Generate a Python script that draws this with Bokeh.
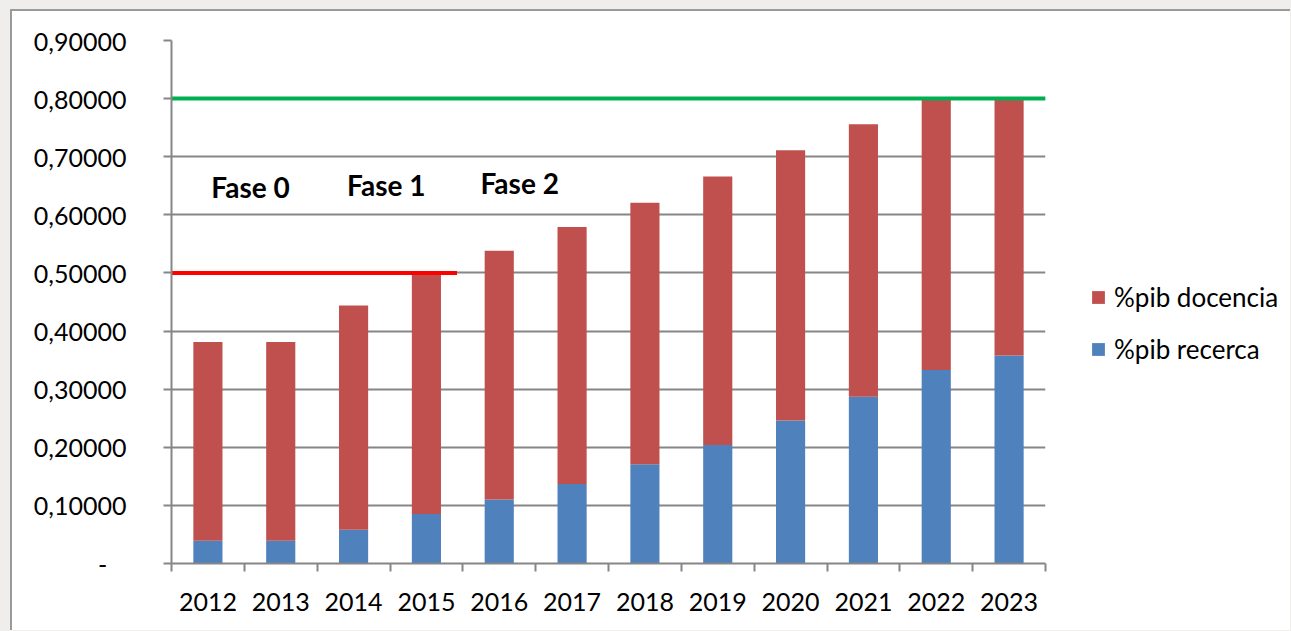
from bokeh.plotting import figure
from bokeh.layouts import row
from bokeh.models import ColumnDataSource, Range1d, FixedTicker, Legend, LegendItem, Label
from bokeh.embed import file_html
from bokeh.resources import INLINE

years = ["2012", "2013", "2014", "2015", "2016", "2017",
         "2018", "2019", "2020", "2021", "2022", "2023"]
pib_recerca = [0.039, 0.039, 0.058, 0.085, 0.110, 0.137,
               0.171, 0.204, 0.246, 0.287, 0.333, 0.358]
pib_docencia = [0.342, 0.342, 0.386, 0.415, 0.428, 0.442,
                0.450, 0.462, 0.465, 0.469, 0.467, 0.442]
series_names = ["%pib docencia", "%pib recerca"]
y_tick_values = [0.0, 0.1, 0.2, 0.3, 0.4, 0.5, 0.6, 0.7, 0.8, 0.9]
y_tick_labels = ["-\u00a0\u00a0\u00a0", "0,10000", "0,20000", "0,30000", "0,40000",
                 "0,50000", "0,60000", "0,70000", "0,80000", "0,90000"]
phase_labels = ["Fase 0", "Fase 1", "Fase 2"]
phase_label_x = [1.585, 3.45, 5.28]
phase_label_y = [0.648, 0.651, 0.655]
target_levels = [0.5, 0.8]
target_line_end = [4.42, 12.5]
target_colors = ["#FF0000", "#00B050"]

FONT = "Lato"
GRAY = "#868686"
RED = "#C0504D"
BLUE = "#4F81BD"

x_pos = list(range(1, len(years) + 1))
source = ColumnDataSource(dict(x=x_pos, recerca=pib_recerca, docencia=pib_docencia))

p = figure(width=1043, height=619, output_backend="svg", toolbar_location=None,
           x_range=Range1d(0.5, len(years) + 0.5), y_range=Range1d(0, 0.9),
           min_border_left=159, min_border_right=10, min_border_top=29,
           min_border_bottom=67)
p.outline_line_color = None
p.background_fill_color = "white"
p.border_fill_color = "white"

renderers = p.vbar_stack(["recerca", "docencia"], x="x", width=0.4, source=source,
                         color=[BLUE, RED], line_color=None)

for lvl, end, col in zip(target_levels, target_line_end, target_colors):
    p.line(x=[0.5, end], y=[lvl, lvl], line_color=col, line_width=4)

for t, lx, ly in zip(phase_labels, phase_label_x, phase_label_y):
    p.add_layout(Label(x=lx, y=ly, text=t, text_font=FONT, text_font_style="bold",
                       text_font_size="28px", text_align="center",
                       text_baseline="middle", text_color="black"))

# axes
xa = p.xaxis[0]
xa.ticker = FixedTicker(ticks=x_pos, minor_ticks=[i + 0.5 for i in range(0, len(years) + 1)])
xa.major_label_overrides = {i: y for i, y in zip(x_pos, years)}
xa.major_tick_out = 0
xa.major_tick_in = 0
xa.minor_tick_out = 8
xa.minor_tick_in = 0
xa.minor_tick_line_color = GRAY
xa.minor_tick_line_width = 2
xa.axis_line_color = GRAY
xa.axis_line_width = 2
xa.major_label_text_font = FONT
xa.major_label_text_font_size = "25px"
xa.major_label_text_color = "black"
xa.major_label_standoff = 21

ya = p.yaxis[0]
ya.ticker = FixedTicker(ticks=y_tick_values, minor_ticks=[])
ya.major_label_overrides = {v: l for v, l in zip(y_tick_values, y_tick_labels)}
ya.major_tick_out = 8
ya.major_tick_in = 0
ya.major_tick_line_color = GRAY
ya.major_tick_line_width = 2
ya.minor_tick_out = 0
ya.minor_tick_in = 0
ya.axis_line_color = GRAY
ya.axis_line_width = 2
ya.major_label_text_font = FONT
ya.major_label_text_font_size = "25px"
ya.major_label_text_color = "black"
ya.major_label_standoff = 37

p.xgrid.grid_line_color = None
p.ygrid.ticker = FixedTicker(ticks=y_tick_values, minor_ticks=[])
p.ygrid.grid_line_color = GRAY
p.ygrid.grid_line_width = 2

# legend panel (separate figure to the right of the chart)
lg = figure(width=235, height=619, output_backend="svg", toolbar_location=None,
            x_range=Range1d(0, 1), y_range=Range1d(0, 1),
            min_border_left=0, min_border_right=0, min_border_top=0, min_border_bottom=0)
lg.axis.visible = False
lg.grid.visible = False
lg.outline_line_color = None
lg.background_fill_color = "white"
lg.border_fill_color = "white"
# legend swatch renderers (kept outside the visible range)
leg_doc = lg.vbar(x=[-5], top=[0], width=0.1, color=RED, line_color=None)
leg_rec = lg.vbar(x=[-5], top=[0], width=0.1, color=BLUE, line_color=None)

legend = Legend(items=[LegendItem(label=series_names[0], renderers=[leg_doc]),
                       LegendItem(label=series_names[1], renderers=[leg_rec])],
                location=(35, 198), margin=0, padding=0, spacing=20,
                glyph_width=16, glyph_height=16, label_standoff=8,
                label_text_font=FONT, label_text_font_size="26px",
                label_text_color="black", border_line_color=None,
                background_fill_alpha=0)
lg.add_layout(legend, "center")

layout = row(p, lg)
layout.styles = {"border-left": "2px solid #9a9a9a", "border-top": "2px solid #9a9a9a",
                 "background-color": "white"}

html = file_html(layout, INLINE)
html = html.replace("</head>",
                    "<style>body{background:#efeeec !important;padding:9px 0 0 10px !important;}</style></head>", 1)
open("out.html", "w").write(html)
